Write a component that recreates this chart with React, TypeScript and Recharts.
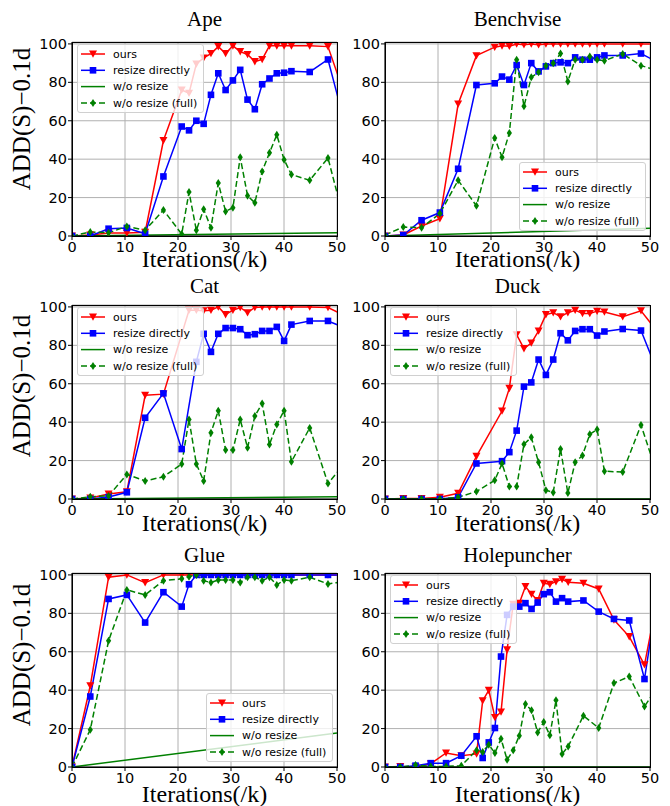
import React from "react"
import { CartesianGrid, Line, LineChart, XAxis, YAxis } from "recharts"

// x positions (iterations, k) shared by the first five panels; last point lies past the axis end
const xsMain = [0, 3.45, 6.9, 10.35, 13.8, 17.25, 20.7, 22.08, 23.46, 24.84, 26.22, 27.6, 28.98, 30.36, 31.74, 33.12, 34.5, 35.88, 37.26, 38.64, 40.02, 41.4, 44.85, 48.3, 51.75]
const xsHole = [0, 2.88, 5.76, 8.64, 11.52, 14.4, 17.28, 18.43, 19.58, 20.74, 21.89, 23.04, 24.19, 25.34, 26.5, 27.65, 28.8, 29.95, 31.1, 32.26, 33.41, 34.56, 37.44, 40.32, 43.2, 46.08, 48.96, 51.84]
const xsLinear = [0, 50]

const xTicks = [0, 10, 20, 30, 40, 50]
const yTicks = [0, 20, 40, 60, 80, 100]
const legendLabels = ["ours", "resize directly", "w/o resize", "w/o resize (full)"]

type V = number | null

const apeOurs: V[] = [0, 0.5, 1.5, 1.5, 2, 49.7, 76, 74.3, 89.6, 92.7, 95, 98.6, 95, 99, 96, 94.5, 90.8, 91.9, 99, 99, 99, 99, 99, 98.6, 71]
const apeResize: V[] = [0, 0, 3.8, 4.2, 1.2, 31, 57, 55, 60, 58.4, 73.5, 84.7, 76, 81, 86.5, 71, 66, 79, 82, 84.7, 85, 85.8, 85.4, 91.9, 55.6]
const apeNoResize: V[] = [0, 1.7]
const apeFull: V[] = [0, 2.1, 1.7, 5, 3, 13.5, 1, 22.9, 3, 13.9, 4.3, 27.6, 12.8, 14.7, 41, 21, 17.3, 33.6, 43.3, 52.7, 39.7, 32, 29, 40.6, 3.9]

const benchOurs: V[] = [0, 0.5, 5.2, 9, 68.7, 93.9, 98.3, 99, 98.8, 100, 99.6, 100, 99.6, 100, 100, 100, 100, 100, 100, 100, 100, 100, 100, 100, 100]
const benchResize: V[] = [0, 0.5, 8.2, 12.2, 35, 78.6, 79.5, 83, 81.4, 89, 78.6, 90, 85.7, 88.3, 90, 90.4, 90, 93, 91.8, 91.8, 93, 94, 94, 95, 90]
const benchNoResize: V[] = [0, 4]
const benchFull: V[] = [0.5, 4.7, 4.3, 11.7, 29, 15.7, 51, 41, 53.6, 91.7, 67.5, 82.6, 85.2, 88.7, 90, 95, 80.5, 91.8, 91.7, 93.4, 91.8, 91.3, 94.8, 88.7, 85.9]

const catOurs: V[] = [0, 0.5, 2.6, 3.8, 54, 54.6, null, 98.3, 98.3, 98, 98.3, 100, 96, 98.3, 99.7, 97, 99.7, 100, 100, 100, 100, 100, 100, 99.7, 95]
const catResize: V[] = [0, 0, 1, 3.5, 42.3, 55, 26, null, 71.4, 86, 76.6, 86, 89, 89, 88.4, 85.3, 85.8, 87.5, 87.5, 89.6, 82.3, 90.8, 92.7, 92.7, 88.8]
const catNoResize: V[] = [0, 1.2]
const catFull: V[] = [0, 1.2, 1.6, 12.8, 9.4, 11.6, 18.2, 41.4, 18.2, 9.4, 34.5, 46, 25.5, 25.5, 41.4, 26.7, 43.2, 49.7, 28.4, 38.8, 46, 19.4, 37, 8.1, 19.5]

const duckOurs: V[] = [0, 0.3, 0.3, 0.9, 3, 22.2, null, 45.8, 57.6, 85.5, 78.3, 81.2, 87.5, 96, 97, 94.9, 97, 98.3, 96.6, 96.6, 97.8, 97.4, 94.9, 98, 85.8]
const duckResize: V[] = [0, 0, 0, 0, 0.9, 18.5, null, 19.7, 24.4, 35.6, 58.5, 60.7, 72.6, 64.6, 72.6, 86.3, 82.6, 87.5, 88.4, 88.4, 85.1, 87.2, 88.5, 87.7, 64]
const duckNoResize: V[] = [0, 0]
const duckFull: V[] = [0, 0, 0, 0, 0.9, 3.9, 9.7, 18.5, 6.5, 6.5, 28.5, 32.1, 19.1, 4.6, 3.4, 26, 3.1, 19.1, 22.7, 33.7, 36.2, 14.5, 14, 38.5, 9.7]

const glueOurs: V[] = [0, 42.3, 98.8, 100, 96, 100, 100, 100, 100, 100, 100, 100, 100, 100, 100, 100, 100, 100, 100, 100, 100, 100, 100, 100, 100]
const glueResize: V[] = [0, 36.7, 87.5, 89.6, 75.2, 91, 83.5, 95.1, 100, 100, 100, 100, 100, 100, 100, 100, 100, 100, 100, 100, 100, 100, 100, 100, 100]
const glueNoResize: V[] = [0, 17.7]
const glueFull: V[] = [0, 19.4, 65.7, 92.2, 89.6, 97, 98, 99.1, 100, 97, 96, 97.4, 97.4, 97.4, 96, 98.8, 98.8, 97, 98.8, 94.8, 97.4, 97, 98.8, 95.3, 96.7]

const holeOurs: V[] = [0, 0.3, 0, 1.7, 7.3, 5.9, 6.8, 34.5, 39.9, 25.8, 28.6, 61, 84.7, 85.3, 94, 90, 86.7, 95.7, 95.1, 96.5, 97.7, 96.2, 95.7, 92.7, 76.6, 67.9, 53.2, 94.2]
const holeResize: V[] = [0, 0, 0.7, 2, 2, 5.9, 16, 4.7, 12.8, 20.3, 57.5, 79.2, 83.5, 83.5, 85.3, 82.3, 85.6, 90, 91, 86.1, 87.9, 86.1, 86.7, 80.9, 77.1, 76.3, 45.8, 97.6]
const holeNoResize: V[] = [0, 0]
const holeFull: V[] = [0, 0, 1, 0.3, 0.3, 0.7, 8.7, 7.8, 11.6, 7.3, 14.7, 3.8, 8.7, 16.3, 32.8, 29.5, 18, 23.4, 16.5, 34.7, 6.8, 10.7, 26.7, 20.3, 43.7, 47.1, 31.5, 43.7]

const RED = "#ff0000"
const BLUE = "#0000ff"
const GREEN = "#008000"
const SERIF = "'Liberation Serif', serif"
const SANS = "'DejaVu Sans', sans-serif"

const PLOT_W = 265
const PLOT_H = 194
const AX_W = 46
const TOP_PAD = 8
const RIGHT_PAD = 12
const X_H = 30
const colLeft = [72, 385]
const rowTop = [42, 305, 573]
const titleBase = [26, 293, 562]
const xLabelBase = [267, 531, 802]
const yLabelMid = [119, 386, 655]

function pts(xs: number[], ys: V[]) {
  const out: { x: number; y: number }[] = []
  ys.forEach((y, i) => {
    if (y !== null) out.push({ x: xs[i], y })
  })
  return out
}

function TriDot(p: any) {
  const { cx, cy, index } = p
  if (cx == null || cy == null) return <g key={`t${index}`} />
  return <polygon key={`t${index}`} points={`${cx - 4},${cy - 3.5} ${cx + 4},${cy - 3.5} ${cx},${cy + 3.8}`} fill={RED} />
}

function SquareDot(p: any) {
  const { cx, cy, index } = p
  if (cx == null || cy == null) return <g key={`s${index}`} />
  return <rect key={`s${index}`} x={cx - 3.3} y={cy - 3.3} width={6.6} height={6.6} fill={BLUE} />
}

function DiamondDot(p: any) {
  const { cx, cy, index } = p
  if (cx == null || cy == null) return <g key={`d${index}`} />
  return <polygon key={`d${index}`} points={`${cx},${cy - 4} ${cx + 2.6},${cy} ${cx},${cy + 4} ${cx - 2.6},${cy}`} fill={GREEN} />
}

interface PanelProps {
  title: string
  col: number
  row: number
  xs: number[]
  ours: V[]
  resize: V[]
  noResize: V[]
  full: V[]
  legendPos: "ul" | "lr"
}

function LegendBox({ pos }: { pos: "ul" | "lr" }) {
  const w = 127
  const h = 69
  const style: React.CSSProperties =
    pos === "ul"
      ? { left: AX_W + 5, top: TOP_PAD + 2 }
      : { left: AX_W + PLOT_W - 4 - w, top: TOP_PAD + PLOT_H - 5 - h }
  const rows = [10, 26.3, 42.6, 58.9]
  return (
    <div
      style={{
        position: "absolute",
        ...style,
        width: w,
        height: h,
        boxSizing: "border-box",
        border: "1px solid #d0d0d0",
        borderRadius: 3,
        background: "rgba(255,255,255,0.8)",
      }}
    >
      <svg width={w} height={h} style={{ position: "absolute", left: -1, top: -1 }}>
        {legendLabels.map((label, i) => {
          const y = rows[i]
          const color = i === 0 ? RED : i === 1 ? BLUE : GREEN
          return (
            <g key={label}>
              <line x1={4} x2={28} y1={y} y2={y} stroke={color} strokeWidth={1.5} strokeDasharray={i === 3 ? "6 3" : undefined} />
              {i === 0 && TriDot({ cx: 16, cy: y, index: "l" })}
              {i === 1 && SquareDot({ cx: 16, cy: y, index: "l" })}
              {i === 3 && DiamondDot({ cx: 16, cy: y, index: "l" })}
              <text x={36} y={y} dy="0.35em" fontSize={11} fontFamily={SANS} fill="#000">
                {label}
              </text>
            </g>
          )
        })}
      </svg>
    </div>
  )
}

function Panel({ col, row, xs, ours, resize, noResize, full, legendPos }: PanelProps) {
  const left = colLeft[col] - AX_W
  const top = rowTop[row] - TOP_PAD
  const tickStyle = { fill: "#000", fontSize: 14.5, fontFamily: SANS }
  return (
    <div style={{ position: "absolute", left, top }}>
      <LineChart
        width={AX_W + PLOT_W + RIGHT_PAD}
        height={TOP_PAD + PLOT_H + X_H}
        margin={{ top: TOP_PAD, right: RIGHT_PAD, left: 0, bottom: 0 }}
      >
        <CartesianGrid stroke="#b0b0b0" strokeWidth={1} />
        <XAxis
          type="number"
          dataKey="x"
          domain={[0, 50]}
          ticks={xTicks}
          allowDataOverflow
          height={X_H}
          tick={tickStyle}
          tickSize={4}
          tickMargin={2}
          tickLine={{ stroke: "#000" }}
          axisLine={{ stroke: "#000" }}
        />
        <YAxis
          type="number"
          dataKey="y"
          domain={[0, 101]}
          ticks={yTicks}
          allowDataOverflow
          width={AX_W}
          tick={tickStyle}
          tickSize={4}
          tickMargin={1}
          tickLine={{ stroke: "#000" }}
          axisLine={{ stroke: "#000" }}
        />
        <Line data={pts(xs, ours)} dataKey="y" stroke={RED} strokeWidth={1.5} dot={TriDot} isAnimationActive={false} />
        <Line data={pts(xs, resize)} dataKey="y" stroke={BLUE} strokeWidth={1.5} dot={SquareDot} isAnimationActive={false} />
        <Line data={pts(xsLinear, noResize)} dataKey="y" stroke={GREEN} strokeWidth={1.5} dot={false} isAnimationActive={false} />
        <Line
          data={pts(xs, full)}
          dataKey="y"
          stroke={GREEN}
          strokeWidth={1.5}
          strokeDasharray="6 3"
          dot={DiamondDot}
          isAnimationActive={false}
        />
      </LineChart>
      <div
        style={{
          position: "absolute",
          left: AX_W,
          top: TOP_PAD,
          width: PLOT_W + 1,
          height: PLOT_H + 1,
          boxSizing: "border-box",
          border: "1px solid #000",
          pointerEvents: "none",
        }}
      />
      <LegendBox pos={legendPos} />
    </div>
  )
}

const panels: PanelProps[] = [
  { title: "Ape", col: 0, row: 0, xs: xsMain, ours: apeOurs, resize: apeResize, noResize: apeNoResize, full: apeFull, legendPos: "ul" },
  { title: "Benchvise", col: 1, row: 0, xs: xsMain, ours: benchOurs, resize: benchResize, noResize: benchNoResize, full: benchFull, legendPos: "lr" },
  { title: "Cat", col: 0, row: 1, xs: xsMain, ours: catOurs, resize: catResize, noResize: catNoResize, full: catFull, legendPos: "ul" },
  { title: "Duck", col: 1, row: 1, xs: xsMain, ours: duckOurs, resize: duckResize, noResize: duckNoResize, full: duckFull, legendPos: "ul" },
  { title: "Glue", col: 0, row: 2, xs: xsMain, ours: glueOurs, resize: glueResize, noResize: glueNoResize, full: glueFull, legendPos: "lr" },
  { title: "Holepuncher", col: 1, row: 2, xs: xsHole, ours: holeOurs, resize: holeResize, noResize: holeNoResize, full: holeFull, legendPos: "ul" },
]

export default function App() {
  return (
    <div style={{ position: "absolute", left: 0, top: 0, width: 670, height: 806, background: "#fff", overflow: "hidden" }}>
      {panels.map((p) => (
        <Panel key={p.title} {...p} />
      ))}
      <svg width={670} height={806} style={{ position: "absolute", left: 0, top: 0, pointerEvents: "none" }}>
        {panels.map((p) => (
          <text
            key={`t-${p.title}`}
            x={colLeft[p.col] + PLOT_W / 2}
            y={titleBase[p.row]}
            textAnchor="middle"
            fontSize={21}
            fontFamily={SERIF}
          >
            {p.title}
          </text>
        ))}
        {panels.map((p) => (
          <text
            key={`x-${p.title}`}
            x={colLeft[p.col] + PLOT_W / 2}
            y={xLabelBase[p.row]}
            textAnchor="middle"
            fontSize={24}
            fontFamily={SERIF}
          >
            Iterations(/k)
          </text>
        ))}
        {rowTop.map((_, r) => (
          <text
            key={`y-${r}`}
            transform={`translate(30, ${yLabelMid[r]}) rotate(-90)`}
            textAnchor="middle"
            fontSize={25}
            fontFamily={SERIF}
          >
            ADD(S)−0.1d
          </text>
        ))}
      </svg>
    </div>
  )
}
